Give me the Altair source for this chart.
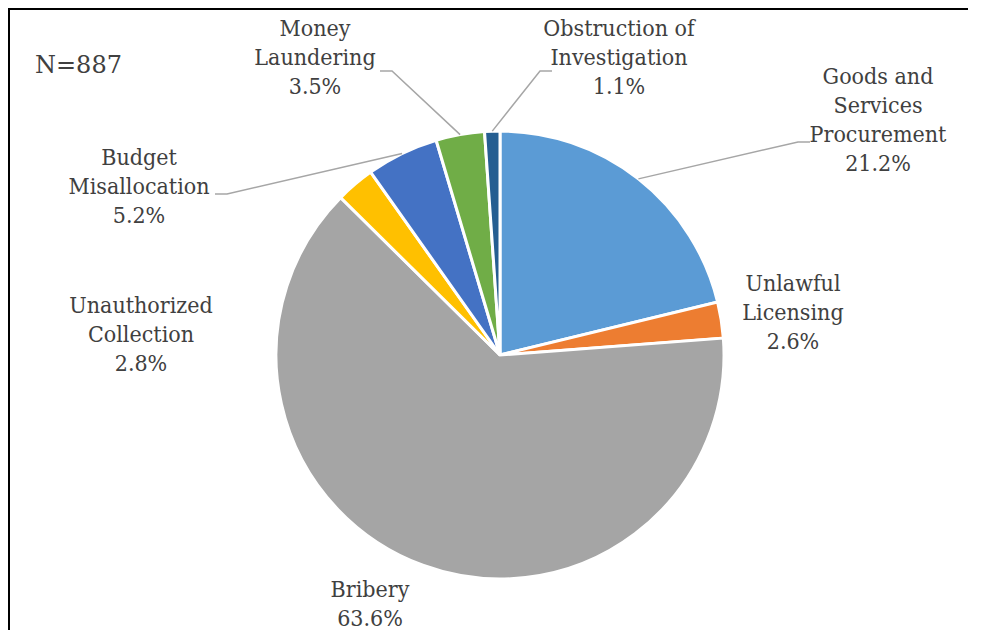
import math
import altair as alt
import pandas as pd

# ---- data ----
categories = ["Goods and Services Procurement", "Unlawful Licensing", "Bribery",
              "Unauthorized Collection", "Budget Misallocation", "Money Laundering",
              "Obstruction of Investigation"]
shares = [21.2, 2.6, 63.6, 2.8, 5.2, 3.5, 1.1]
label_lines = [["Goods and", "Services", "Procurement"], ["Unlawful", "Licensing"], ["Bribery"],
               ["Unauthorized", "Collection"], ["Budget", "Misallocation"], ["Money", "Laundering"],
               ["Obstruction of", "Investigation"]]
colors = ["#5B9BD5", "#ED7D31", "#A5A5A5", "#FFC000", "#4472C4", "#70AD47", "#255E91"]
note = "N=887"

# ---- layout (chart pixel coordinates) ----
W, H = 960, 622
CX, CY, R = 492, 347, 224
FONT = "DejaVu Serif Condensed"
FONT2 = "DejaVu Serif"
TXT = "#404040"
label_anchor = {  # centre x, first baseline y
    "Goods and Services Procurement": (870, 76),
    "Unlawful Licensing": (785, 283),
    "Bribery": (362, 589),
    "Unauthorized Collection": (133, 305),
    "Budget Misallocation": (131, 157),
    "Money Laundering": (307, 28),
    "Obstruction of Investigation": (611, 28),
}
leader_elbow = {  # elbow point, end point
    "Goods and Services Procurement": [(790, 134), (802, 134)],
    "Budget Misallocation": [(219, 186), (207, 186)],
    "Money Laundering": [(384, 63), (372, 63)],
    "Obstruction of Investigation": [(532, 63), (544, 63)],
}

total = sum(shares)
pie_df = pd.DataFrame({"name": categories, "share": shares, "idx": list(range(len(shares)))})

lab_rows = []
for name, v, lines in zip(categories, shares, label_lines):
    x, y = label_anchor[name]
    lab_rows.append({"name": name, "text": lines + [f"{v:.1f}%"], "x": x, "y": y})
lab_df = pd.DataFrame(lab_rows)

# leader lines: start on the slice edge at its mid angle
line_rows = []
cum = 0.0
for name, v in zip(categories, shares):
    mid = (cum + v / 2) / total * 2 * math.pi
    cum += v
    if name in leader_elbow:
        sx = CX + R * math.sin(mid)
        sy = CY - R * math.cos(mid)
        pts = [(sx, sy)] + leader_elbow[name]
        for i, (px, py) in enumerate(pts):
            line_rows.append({"name": name, "pt": i, "x": px, "y": py})
line_df = pd.DataFrame(line_rows)

pie = alt.Chart(pie_df).mark_arc(outerRadius=R, stroke="white", strokeWidth=3).encode(
    theta=alt.Theta("share:Q", stack=True),
    order=alt.Order("idx:Q", sort="ascending"),
    color=alt.Color("name:N", scale=alt.Scale(domain=categories, range=colors), legend=None),
    x=alt.value(CX),
    y=alt.value(CY),
)

leaders = alt.Chart(line_df).mark_line(color="#A6A6A6", strokeWidth=1.5).encode(
    x=alt.X("x:Q", scale=None, axis=None),
    y=alt.Y("y:Q", scale=None, axis=None),
    detail="name:N",
    order="pt:Q",
)

labels = alt.Chart(lab_df).mark_text(
    font=FONT, fontSize=23, color=TXT, align="center", baseline="alphabetic", lineHeight=29
).encode(
    x=alt.X("x:Q", scale=None, axis=None),
    y=alt.Y("y:Q", scale=None, axis=None),
    text="text",
)

one = pd.DataFrame({"a": [0]})
note_txt = alt.Chart(one).mark_text(
    font=FONT2, fontSize=24, color=TXT, align="left", baseline="alphabetic", text=note
).encode(x=alt.value(27), y=alt.value(65))

frame_left = alt.Chart(one).mark_rule(color="black", strokeWidth=2).encode(
    x=alt.value(1), y=alt.value(0), y2=alt.value(H))
frame_top = alt.Chart(one).mark_rule(color="black", strokeWidth=2).encode(
    x=alt.value(0), x2=alt.value(W), y=alt.value(1))

chart = alt.layer(pie, leaders, labels, note_txt, frame_left, frame_top).properties(
    width=W, height=H, padding=0, autosize=alt.AutoSizeParams(type="none"),
    background="white",
).configure_view(stroke=None)

chart.save("out.html", embed_options={"renderer": "svg", "actions": False})
